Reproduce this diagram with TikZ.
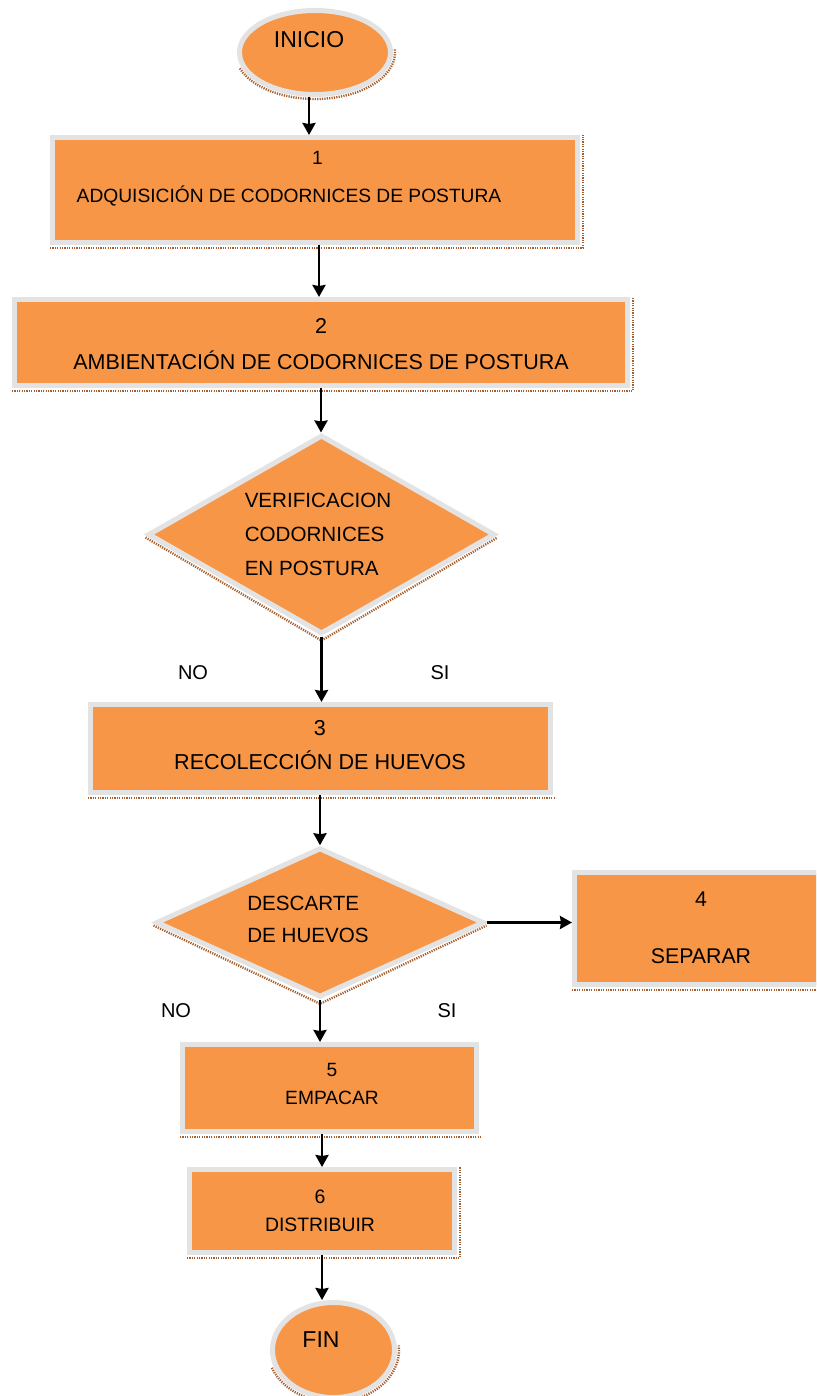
\documentclass[tikz,border=0pt]{standalone}
\usepackage{fontspec}
\setmainfont{Liberation Sans}
\usetikzlibrary{shapes.geometric,arrows.meta,calc}
\definecolor{boxorange}{HTML}{F79646}
\definecolor{boxgray}{HTML}{E3E3E3}
\definecolor{shadbrown}{HTML}{A65F2C}
\newcommand\setfs[2]{\fontsize{#1}{#2}\selectfont}
\tikzset{
  shapebase/.style={draw=boxgray, line width=5pt, fill=boxorange, inner sep=0pt},
  procbox/.style={shapebase, rectangle},
  decision/.style={shapebase, diamond},
  terminal/.style={shapebase, ellipse},
  lbl/.style={inner sep=0pt, text=black},
  shad/.style={draw=shadbrown, line width=2.4pt, dash pattern=on 1.2pt off 1.2pt},
  arr/.style={draw=black, line width=2.6pt, -{Stealth[length=12pt,width=13pt,inset=1pt]}},
}
\begin{document}
\begin{tikzpicture}[x=1pt,y=1pt]
\useasboundingbox (0,0) rectangle (816,-1396);
\fill[white] (0,0) rectangle (816,-1396);
\clip (0,0) rectangle (816,-1396);

% shapes
\node[terminal, minimum width=151pt, minimum height=84pt] (e1) at (315,-52.5) {};
\node[procbox, minimum width=525pt, minimum height=105pt] (b1) at (315,-190) {};
\node[procbox, minimum width=613pt, minimum height=86pt] (b2) at (321,-342.5) {};
\node[decision, minimum width=347pt, minimum height=199pt] (d1) at (321.5,-534.5) {};
\node[procbox, minimum width=460pt, minimum height=88pt] (b3) at (320.5,-748.5) {};
\node[decision, minimum width=328pt, minimum height=149.5pt] (d2) at (320,-922.5) {};
\node[procbox, minimum width=258pt, minimum height=112pt] (b4) at (703.5,-928.5) {};
\node[procbox, minimum width=294pt, minimum height=87pt] (b5) at (329.5,-1088) {};
\node[procbox, minimum width=265pt, minimum height=83pt] (b6) at (322,-1211) {};
\node[terminal, minimum width=122pt, minimum height=95pt] (e2) at (333.5,-1350) {};

% dotted shadows
\draw[shad] ($(e1.center)+(200:80 and 46.5)$) arc[start angle=200, end angle=365, x radius=80, y radius=46.5];
\draw[shad] ($(e2.center)+(200:65.5 and 52)$) arc[start angle=200, end angle=365, x radius=65.5, y radius=52];
\draw[shad] ([shift={(0,-3)}]b1.south west) -- ([shift={(3,-3)}]b1.south east) -- ([shift={(3,0)}]b1.north east);
\draw[shad] ([shift={(0,-3)}]b2.south west) -- ([shift={(3,-3)}]b2.south east) -- ([shift={(3,0)}]b2.north east);
\draw[shad] ([shift={(0,-3)}]b3.south west) -- ([shift={(3,-3)}]b3.south east);
\draw[shad] ([shift={(0,-3)}]b4.south west) -- ([shift={(3,-3)}]b4.south east);
\draw[shad] ([shift={(0,-3)}]b5.south west) -- ([shift={(3,-3)}]b5.south east);
\draw[shad] ([shift={(0,-3)}]b6.south west) -- ([shift={(3,-3)}]b6.south east) -- ([shift={(3,0)}]b6.north east);
\draw[shad] ([yshift=-3]d1.west) -- ([yshift=-4]d1.south) -- ([yshift=-3]d1.east);
\draw[shad] ([yshift=-3]d2.west) -- ([yshift=-4]d2.south) -- ([yshift=-3]d2.east);

% texts
\node[lbl, font=\setfs{23}{28}] (t0) at (309,-40) {INICIO};
\node[lbl, align=left, font=\setfs{19.2}{38}] (t1) at (289,-179) {\hspace*{235.5pt}1\\ADQUISICIÓN DE CODORNICES DE POSTURA};
\node[lbl, align=center, font=\setfs{21.5}{36}] (t2) at (321,-344) {2\\AMBIENTACIÓN DE CODORNICES DE POSTURA};
\node[lbl, align=left, font=\setfs{20.6}{34}] (t3) at (318,-534) {VERIFICACION\\CODORNICES\\EN POSTURA};
\node[lbl, align=center, font=\setfs{21.6}{34}] (t4) at (320,-745) {3\\RECOLECCIÓN DE HUEVOS};
\node[lbl, align=left, font=\setfs{20.6}{32}] (t5) at (308,-919) {DESCARTE\\DE HUEVOS};
\node[lbl, align=center, font=\setfs{21.3}{57}] (t6) at (701,-927.5) {4\\SEPARAR};
\node[lbl, align=center, font=\setfs{19.2}{28}] (t7) at (332,-1084) {5\\EMPACAR};
\node[lbl, align=center, font=\setfs{19.4}{28}] (t8) at (320,-1211) {6\\DISTRIBUIR};
\node[lbl, font=\setfs{23}{28}] (t9) at (321,-1340) {FIN};
\node[lbl, font=\setfs{20}{24}] (no1) at (193,-673) {NO};
\node[lbl, font=\setfs{20}{24}] (si1) at (440,-673) {SI};
\node[lbl, font=\setfs{20}{24}] (no2) at (176,-1011) {NO};
\node[lbl, font=\setfs{20}{24}] (si2) at (447,-1011) {SI};

% connectors
\draw[arr] ([xshift=-6pt]e1.south) -- ([xshift=-6pt]e1.south |- b1.north);
\draw[arr] ([xshift=4pt]b1.south) -- ([xshift=4pt]b1.south |- b2.north);
\draw[arr] (b2.south) -- (b2.south |- d1.north);
\draw[arr] (d1.south) -- (d1.south |- b3.north);
\draw[arr] (b3.south -| d2.north) -- (d2.north);
\draw[arr] (d2.east) -- (d2.east -| b4.west);
\draw[arr] (d2.south) -- (d2.south |- b5.north);
\draw[arr] (b5.south -| b6.north) -- (b6.north);
\draw[arr] (b6.south) -- (b6.south |- e2.north);
\end{tikzpicture}
\end{document}
